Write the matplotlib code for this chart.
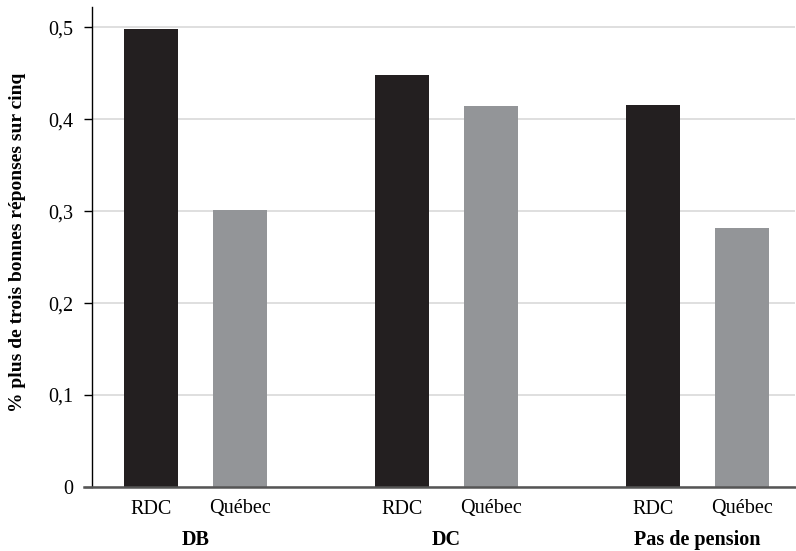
import matplotlib
matplotlib.use("Agg")
import matplotlib.pyplot as plt
import matplotlib.transforms as mtransforms
import numpy as np

groups = ["DB", "DC", "Pas de pension"]
series = ["RDC", "Québec"]
rdc = [0.498, 0.448, 0.415]
quebec = [0.301, 0.414, 0.282]
yticks = [0, 0.1, 0.2, 0.3, 0.4, 0.5]
ytick_labels = ["0", "0,1", "0,2", "0,3", "0,4", "0,5"]
ylabel = "% plus de trois bonnes réponses sur cinq"

plt.rcParams['font.family'] = ['Liberation Serif', 'DejaVu Serif']

W, H = 796, 551
fig = plt.figure(figsize=(W/100, H/100), dpi=100)
left, right, top, bottom = 92, 795, 7, 487
ax = fig.add_axes([left/W, 1-bottom/H, (right-left)/W, (bottom-top)/H])

x = np.arange(len(groups))
off = 0.177
bw = 0.215
ax.bar(x - off, rdc, width=bw, color="#231f20", zorder=3)
ax.bar(x + off, quebec, width=bw, color="#939598", zorder=3)

ax.set_xlim(-0.412, 2.388)
ax.set_ylim(0, 0.522)

ax.set_yticks(yticks)
ax.set_yticklabels(ytick_labels, fontsize=14.5)
ax.tick_params(axis='y', direction='out', length=6, width=1, color='black', pad=7.5)
ax.yaxis.grid(True, color="#d9d9d9", linewidth=1.2, zorder=0)
ax.set_axisbelow(True)

pos = np.concatenate([x - off, x + off])
labs = [series[0]] * len(groups) + [series[1]] * len(groups)
ax.set_xticks(pos)
ax.set_xticklabels(labs, fontsize=14.5)
ax.tick_params(axis='x', length=0, pad=9)

for s in ['top', 'right']:
    ax.spines[s].set_visible(False)
ax.spines['left'].set_linewidth(1.0)
ax.spines['left'].set_color('black')
ax.spines['bottom'].set_visible(False)
ax.axhline(0, xmin=-8/(right-left), xmax=1, color="#555555", linewidth=1.8, clip_on=False, zorder=4)

trans = mtransforms.blended_transform_factory(ax.transData, ax.transAxes)
for xi, g in zip(x, groups):
    ax.text(xi, -(540-487)/(bottom-top), g, transform=trans, ha='center', va='center',
            fontsize=14.5, fontweight='bold')

fig.text(18/W, 1-242/H, ylabel, rotation=90, ha='center', va='center',
         fontsize=14, fontweight='bold')

fig.savefig("out.png", dpi=100)
